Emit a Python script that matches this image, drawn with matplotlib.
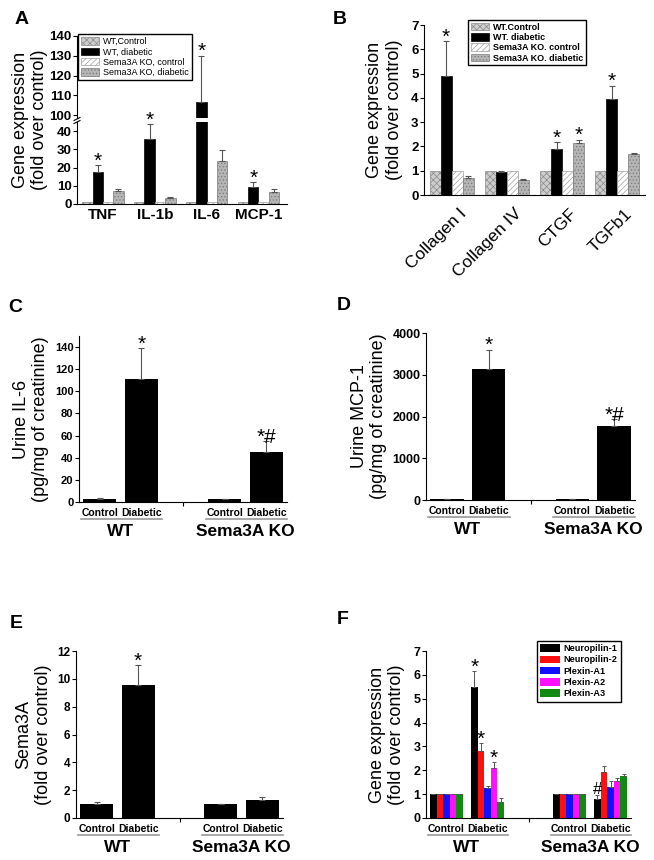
import numpy as np
import matplotlib
matplotlib.use("Agg")
import matplotlib.pyplot as plt
import matplotlib.transforms as mtransforms
from matplotlib.patches import Patch

plt.rcParams['font.family'] = ['Liberation Sans', 'DejaVu Sans']
plt.rcParams['hatch.linewidth'] = 0.5

# ---------------- data ----------------
A_cats = ['TNF', 'IL-1b', 'IL-6', 'MCP-1']
A_wt_ctrl = [1, 1, 1, 1]
A_wt_diab = [17.5, 35.5, 106.5, 9.5]
A_wt_diab_err = [4.0, 8.5, 23.5, 2.5]
A_ko_ctrl = [1, 1, 1, 1]
A_ko_diab = [7.0, 3.5, 23.5, 6.5]
A_ko_diab_err = [1.0, 0.5, 6.0, 1.5]

B_cats = ['Collagen I', 'Collagen IV', 'CTGF', 'TGFb1']
B_wt_ctrl = [1, 1, 1, 1]
B_wt_diab = [4.9, 0.95, 1.88, 3.95]
B_wt_diab_err = [1.45, 0.05, 0.29, 0.55]
B_ko_ctrl = [1, 1, 1, 1]
B_ko_diab = [0.7, 0.63, 2.13, 1.67]
B_ko_diab_err = [0.08, 0.03, 0.15, 0.08]

legend_labels = ['WT,Control', 'WT, diabetic', 'Sema3A KO, control', 'Sema3A KO, diabetic']
legend_labels_B = ['WT.Control', 'WT. diabetic', 'Sema3A KO. control', 'Sema3A KO. diabetic']

cond_labels = ['Control', 'Diabetic']
group_names = ['WT', 'Sema3A KO']

C_vals = [3, 111, 2.5, 45]
C_err = [0.5, 28, 0.4, 10]
D_vals = [20, 3130, 20, 1770]
D_err = [5, 470, 5, 160]
E_vals = [1.0, 9.55, 1.0, 1.3]
E_err = [0.18, 1.45, 0.0, 0.2]

F_series = ['Neuropilin-1', 'Neuropilin-2', 'Plexin-A1', 'Plexin-A2', 'Plexin-A3']
F_vals = {
    'Neuropilin-1': [1, 5.48, 1, 0.80],
    'Neuropilin-2': [1, 2.80, 1, 1.92],
    'Plexin-A1':    [1, 1.27, 1, 1.32],
    'Plexin-A2':    [1, 2.08, 1, 1.56],
    'Plexin-A3':    [1, 0.66, 1, 1.74],
}
F_err = {
    'Neuropilin-1': [0, 0.67, 0, 0.15],
    'Neuropilin-2': [0, 0.33, 0, 0.27],
    'Plexin-A1':    [0, 0.08, 0, 0.23],
    'Plexin-A2':    [0, 0.25, 0, 0.10],
    'Plexin-A3':    [0, 0.17, 0, 0.12],
}
F_colors = ['#000000', '#ff1010', '#1010ff', '#ff10ff', '#108a10']

# ---------------- figure ----------------
W, H = 654, 860
fig = plt.figure(figsize=(W / 100, H / 100), dpi=100)


def add_ax(left, top, right, bottom):
    return fig.add_axes([left / W, 1 - bottom / H, (right - left) / W, (bottom - top) / H])


def style(ax, ytick_size=9):
    for s in ['top', 'right']:
        ax.spines[s].set_visible(False)
    ax.tick_params(axis='y', direction='out', length=3, width=0.8, labelsize=ytick_size, pad=1)
    for t in ax.get_yticklabels():
        t.set_fontweight('bold')


ECOL = '#555555'
styles4 = [
    dict(facecolor='#cdcdcd', hatch='xxxxx', edgecolor='#8a8a8a'),
    dict(facecolor='#000000', edgecolor='#000000'),
    dict(facecolor='#ffffff', hatch='//////', edgecolor='#a0a0a0'),
    dict(facecolor='#b5b5b5', hatch='.....', edgecolor='#7a7a7a'),
]


def draw4(ax, vals_list, errs_list):
    x = np.arange(len(vals_list[0]))
    w = 0.2
    offs = [-1.5 * w, -0.5 * w, 0.5 * w, 1.5 * w]
    for i, (vals, errs) in enumerate(zip(vals_list, errs_list)):
        ax.bar(x + offs[i], vals, w, linewidth=0.5, **styles4[i])
        if errs is not None:
            ax.errorbar(x + offs[i], vals, yerr=[np.zeros(len(errs)), errs], fmt='none',
                        ecolor=ECOL, elinewidth=0.8, capsize=2, capthick=0.8)
    return x, offs


def star(ax, x, top, s='*', dy=-4, size=15):
    ax.annotate(s, (x, top), xytext=(0, dy), textcoords='offset points',
                ha='center', va='bottom', fontsize=size, annotation_clip=False,
                zorder=10)


# ---------------- Panel A (broken axis) ----------------
axA_hi = add_ax(77, 36, 287, 118)
axA_lo = add_ax(77, 122, 287, 204)
axA_hi.patch.set_visible(False)
axA_lo.patch.set_visible(False)
for ax in (axA_lo, axA_hi):
    xA, offA = draw4(ax, [A_wt_ctrl, A_wt_diab, A_ko_ctrl, A_ko_diab],
                     [None, A_wt_diab_err, None, A_ko_diab_err])
    ax.set_xlim(-0.5, 3.55)
axA_lo.set_ylim(0, 45)
axA_hi.set_ylim(98.5, 140)
axA_lo.set_yticks([0, 10, 20, 30, 40])
axA_hi.set_yticks([100, 110, 120, 130, 140])
style(axA_lo, 9.5)
style(axA_hi, 9.5)
axA_lo.spines['top'].set_visible(False)
axA_hi.spines['bottom'].set_visible(False)
axA_hi.set_xticks([])
axA_lo.set_xticks(xA)
axA_lo.set_xticklabels(A_cats, fontsize=11, fontweight='bold')
axA_lo.tick_params(axis='x', length=0, pad=3)
for i in [0, 1, 3]:
    star(axA_lo, xA[i] + offA[1], A_wt_diab[i] + A_wt_diab_err[i])
star(axA_hi, xA[2] + offA[1], A_wt_diab[2] + A_wt_diab_err[2])
for yy in (119, 122):
    fig.add_artist(plt.Line2D([74 / W, 80 / W], [1 - (yy + 1.5) / H, 1 - (yy - 1.5) / H],
                              color='black', lw=0.8))
fig.text(30 / W, 1 - 120 / H, 'Gene expression\n(fold over control)', rotation=90,
         ha='center', va='center', fontsize=13, linespacing=1.15)
axA_hi.legend([Patch(linewidth=0.5, **s) for s in styles4], legend_labels,
              loc='upper left', bbox_to_anchor=(0.005, 1.02), fontsize=6.5,
              frameon=True, fancybox=False, edgecolor='black', framealpha=1,
              handlelength=2.0, handleheight=0.9, borderpad=0.3, labelspacing=0.15,
              handletextpad=0.5, borderaxespad=0)

# ---------------- Panel B ----------------
axB = add_ax(424, 25, 645, 195)
xB, offB = draw4(axB, [B_wt_ctrl, B_wt_diab, B_ko_ctrl, B_ko_diab],
                 [None, B_wt_diab_err, None, B_ko_diab_err])
axB.set_xlim(-0.5, 3.5)
axB.set_ylim(0, 7)
axB.set_yticks(range(8))
style(axB, 9.5)
axB.set_xticks(xB)
axB.set_xticklabels(B_cats, rotation=45, ha='right', rotation_mode='anchor', fontsize=12.5)
axB.tick_params(axis='x', length=0, pad=8)
shift = mtransforms.ScaledTranslation(7 / 100, 0, fig.dpi_scale_trans)
for t in axB.get_xticklabels():
    t.set_transform(t.get_transform() + shift)
axB.set_ylabel('Gene expression\n(fold over control)', fontsize=13, labelpad=6)
star(axB, xB[0] + offB[1], B_wt_diab[0] + B_wt_diab_err[0])
star(axB, xB[2] + offB[1], B_wt_diab[2] + B_wt_diab_err[2])
star(axB, xB[2] + offB[3], B_ko_diab[2] + B_ko_diab_err[2])
star(axB, xB[3] + offB[1], B_wt_diab[3] + B_wt_diab_err[3])
axB.legend([Patch(linewidth=0.5, **s) for s in styles4], legend_labels_B,
           loc='upper left', bbox_to_anchor=(0.2, 1.03),
           prop={'size': 6.5, 'weight': 'bold'},
           frameon=True, fancybox=False, edgecolor='black', framealpha=1,
           handlelength=2.0, handleheight=0.9, borderpad=0.3, labelspacing=0.15,
           handletextpad=0.5, borderaxespad=0)

# ---------------- grouped C-F helpers ----------------
xpos = np.array([0, 1, 3, 4])


def group_labels(ax, hpx):
    tr = mtransforms.blended_transform_factory(ax.transData, ax.transAxes)
    for g, base in enumerate([0, 3]):
        ax.text(base, -10.5 / hpx, cond_labels[0], transform=tr, ha='center', va='center',
                fontsize=7.5, fontweight='bold')
        ax.text(base + 1, -10.5 / hpx, cond_labels[1], transform=tr, ha='center', va='center',
                fontsize=7.5, fontweight='bold')
        ax.plot([base - 0.45, base + 1.5], [-17 / hpx, -17 / hpx], transform=tr,
                color='#9a9a9a', lw=1.2, clip_on=False)
        ax.text(base + 0.5, -29 / hpx, group_names[g], transform=tr, ha='center', va='center',
                fontsize=12.5, fontweight='bold')
    ax.set_xlim(-0.5, 4.5)
    ax.set_xticks([2])
    ax.set_xticklabels([''])
    ax.tick_params(axis='x', direction='out', length=3, width=0.8)


def simple_panel(ax, vals, errs, ylim, yticks, ylabel, ysize, hpx):
    ax.bar(xpos, vals, 0.8, color='black')
    ax.errorbar(xpos, vals, yerr=[np.zeros(len(errs)), errs], fmt='none',
                ecolor=ECOL, elinewidth=0.8, capsize=2.5, capthick=0.8)
    ax.set_ylim(*ylim)
    ax.set_yticks(yticks)
    style(ax, ysize)
    ax.set_ylabel(ylabel, fontsize=13, labelpad=4, linespacing=1.15)
    group_labels(ax, hpx)


# ---------------- Panel C ----------------
axC = add_ax(79, 336, 287, 502)
simple_panel(axC, C_vals, C_err, (0, 150), range(0, 141, 20),
             'Urine IL-6\n(pg/mg of creatinine)', 8, 166)
star(axC, xpos[1], C_vals[1] + C_err[1])
star(axC, xpos[3], C_vals[3] + C_err[3], s='*#')

# ---------------- Panel D ----------------
axD = add_ax(426, 333, 635, 500)
simple_panel(axD, D_vals, D_err, (0, 4000), range(0, 4001, 1000),
             'Urine MCP-1\n(pg/mg of creatinine)', 9, 167)
star(axD, xpos[1], D_vals[1] + D_err[1])
star(axD, xpos[3], D_vals[3] + D_err[3], s='*#')

# ---------------- Panel E ----------------
axE = add_ax(76, 651, 283, 818)
simple_panel(axE, E_vals, E_err, (0, 12), range(0, 13, 2),
             'Sema3A\n(fold over control)', 8.5, 167)
star(axE, xpos[1], E_vals[1] + E_err[1])

# ---------------- Panel F ----------------
axF = add_ax(426, 651, 631, 818)
wF = 0.16
offF = (np.arange(5) - 2) * wF
handles = []
for i, name in enumerate(F_series):
    h = axF.bar(xpos + offF[i], F_vals[name], wF, color=F_colors[i], edgecolor='none')
    handles.append(h)
    axF.errorbar(xpos + offF[i], F_vals[name],
                 yerr=[np.zeros(4), F_err[name]], fmt='none',
                 ecolor=ECOL, elinewidth=0.7, capsize=1.5, capthick=0.7)
axF.set_ylim(0, 7)
axF.set_yticks(range(8))
style(axF, 9)
axF.set_ylabel('Gene expression\n(fold over control)', fontsize=13, labelpad=6, linespacing=1.15)
group_labels(axF, 167)
star(axF, xpos[1] + offF[0], F_vals['Neuropilin-1'][1] + F_err['Neuropilin-1'][1])
star(axF, xpos[1] + offF[1], F_vals['Neuropilin-2'][1] + F_err['Neuropilin-2'][1])
star(axF, xpos[1] + offF[3], F_vals['Plexin-A2'][1] + F_err['Plexin-A2'][1])
star(axF, xpos[3] + offF[0], F_vals['Neuropilin-1'][3] + F_err['Neuropilin-1'][3], s='#',
     dy=-1, size=12)
axF.legend(handles, F_series, loc='upper left', bbox_to_anchor=(0.54, 1.06),
           prop={'size': 6.6, 'weight': 'bold'}, frameon=True, fancybox=False,
           edgecolor='black', framealpha=1, handlelength=2.2, handleheight=0.9,
           borderpad=0.35, labelspacing=0.25, handletextpad=0.4, borderaxespad=0)

# ---------------- panel letters ----------------
for lab, (px, py) in {'A': (15, 20), 'B': (333, 20), 'C': (8, 307), 'D': (337, 305),
                      'E': (10, 623), 'F': (337, 620)}.items():
    fig.text(px / W, 1 - py / H, lab, fontsize=14, fontweight='bold', ha='left', va='center')

fig.savefig('out.png', dpi=100)
